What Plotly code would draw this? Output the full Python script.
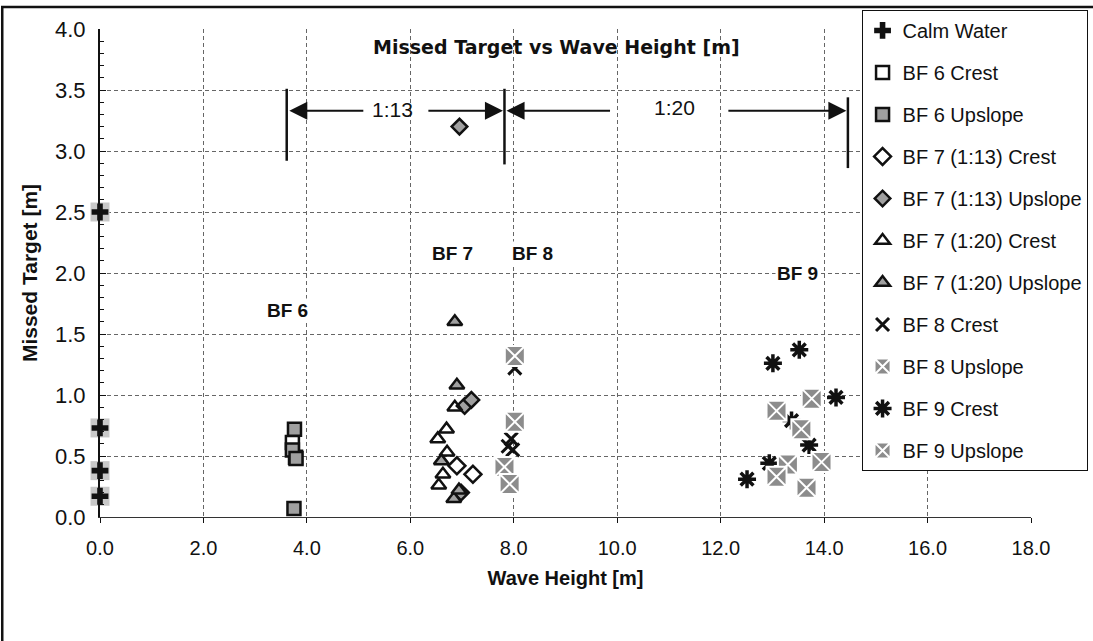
import plotly.graph_objects as go

# ---- data -------------------------------------------------------------
calm_x = [0.0, 0.0, 0.0, 0.0]
calm_y = [2.50, 0.73, 0.38, 0.17]

bf6_crest_x = [3.72, 3.78]
bf6_crest_y = [0.61, 0.49]
bf6_up_x = [3.76, 3.72, 3.79, 3.75]
bf6_up_y = [0.72, 0.55, 0.48, 0.07]

bf7_13_crest_x = [6.90, 7.21]
bf7_13_crest_y = [0.42, 0.35]
bf7_13_up_x = [6.95, 7.05, 7.18, 6.98]
bf7_13_up_y = [3.20, 0.91, 0.96, 0.20]

bf7_20_crest_x = [6.86, 6.70, 6.53, 6.71, 6.63, 6.55]
bf7_20_crest_y = [0.90, 0.72, 0.64, 0.53, 0.35, 0.26]
bf7_20_up_x = [6.86, 6.90, 6.60, 6.84, 6.94]
bf7_20_up_y = [1.60, 1.08, 0.46, 0.15, 0.22]

bf8_crest_x = [8.02, 7.95, 7.89, 7.98]
bf8_crest_y = [1.22, 0.64, 0.58, 0.55]
bf8_up_x = [8.02, 8.02, 7.82, 7.92]
bf8_up_y = [1.32, 0.78, 0.41, 0.27]

bf9_crest_x = [13.52, 13.01, 14.23, 13.37, 13.71, 12.94, 12.51]
bf9_crest_y = [1.37, 1.26, 0.98, 0.79, 0.59, 0.44, 0.31]
bf9_up_x = [13.76, 13.08, 13.56, 13.95, 13.30, 13.08, 13.66]
bf9_up_y = [0.97, 0.87, 0.72, 0.45, 0.43, 0.33, 0.24]

x_ticks = [0, 2, 4, 6, 8, 10, 12, 14, 16, 18]
x_tick_text = ["0.0", "2.0", "4.0", "6.0", "8.0", "10.0", "12.0", "14.0", "16.0", "18.0"]
y_ticks = [0, 0.5, 1.0, 1.5, 2.0, 2.5, 3.0, 3.5, 4.0]

FONT = "Arial, Liberation Sans, sans-serif"
WIDE = "DejaVu Sans, Arial, sans-serif"
GREY = "#a0a0a0"
HATCH = "#8c8c8c"
BLACK = "#111111"

fig = go.Figure()

# grey backing patch under the calm-water crosses
fig.add_trace(go.Scatter(
    x=calm_x, y=calm_y, mode="markers", showlegend=False, hoverinfo="skip",
    cliponaxis=False,
    marker=dict(symbol="square", size=19, color="#c8c8c8", line=dict(width=0)),
))


def add(name, x, y, symbol, size, color, line_color, line_width):
    fig.add_trace(go.Scatter(
        x=x, y=y, mode="markers", name=name, legendgroup=name, cliponaxis=False,
        marker=dict(symbol=symbol, size=size, color=color,
                    line=dict(color=line_color, width=line_width)),
    ))


add("Calm Water", calm_x, calm_y, "cross", 14, BLACK, BLACK, 0)
add("BF 6 Crest", bf6_crest_x, bf6_crest_y, "square-open", 13, BLACK, BLACK, 2.5)
add("BF 6 Upslope", bf6_up_x, bf6_up_y, "square", 13, GREY, BLACK, 2.5)
add("BF 7 (1:13) Crest", bf7_13_crest_x, bf7_13_crest_y, "diamond-open", 13, BLACK, BLACK, 2.5)
add("BF 7 (1:13) Upslope", bf7_13_up_x, bf7_13_up_y, "diamond", 12, GREY, BLACK, 2.5)
add("BF 7 (1:20) Crest", bf7_20_crest_x, bf7_20_crest_y, "triangle-up-open", 13, BLACK, BLACK, 2.5)
add("BF 7 (1:20) Upslope", bf7_20_up_x, bf7_20_up_y, "triangle-up", 13, GREY, BLACK, 2.5)
add("BF 8 Crest", bf8_crest_x, bf8_crest_y, "x-thin", 13, BLACK, BLACK, 3)
add("BF 8 Upslope", bf8_up_x, bf8_up_y, "square-x", 20, HATCH, "white", 2)
add("BF 9 Crest", bf9_crest_x, bf9_crest_y, "asterisk", 15, BLACK, BLACK, 3.5)
add("BF 9 Upslope", bf9_up_x, bf9_up_y, "square-x", 20, HATCH, "white", 2)

# ---- ratio brackets (1:13 / 1:20) ------------------------------------
shapes = []
for bx, y0, y1 in [(3.61, 2.92, 3.51), (7.82, 2.89, 3.51), (14.46, 2.86, 3.44)]:
    shapes.append(dict(type="line", xref="x", yref="y", x0=bx, x1=bx, y0=y0, y1=y1,
                       line=dict(color=BLACK, width=2.5)))

# outer frame of the figure
shapes.append(dict(type="rect", xref="paper", yref="paper",
                   x0=-0.105, x1=1.4, y0=-0.4, y1=1.045,
                   line=dict(color=BLACK, width=2.5)))

annotations = []
arrow_y = 3.33
for tail, head in [(5.12, 3.66), (6.32, 7.79), (9.89, 7.86), (12.12, 14.43)]:
    annotations.append(dict(
        x=head, y=arrow_y, ax=tail, ay=arrow_y, xref="x", yref="y",
        axref="x", ayref="y", text="", showarrow=True,
        arrowhead=2, arrowsize=1.8, arrowwidth=2, arrowcolor=BLACK,
    ))
annotations.append(dict(x=5.65, y=3.34, xref="x", yref="y", text="1:13",
                        showarrow=False, font=dict(family=FONT, size=21, color=BLACK)))
annotations.append(dict(x=11.11, y=3.36, xref="x", yref="y", text="1:20",
                        showarrow=False, font=dict(family=FONT, size=21, color=BLACK)))

# Beaufort group labels
for txt, lx, ly in [("BF 6", 3.63, 1.69), ("BF 7", 6.82, 2.16),
                    ("BF 8", 8.37, 2.16), ("BF 9", 13.49, 2.00)]:
    annotations.append(dict(x=lx, y=ly, xref="x", yref="y", text="<b>%s</b>" % txt,
                            showarrow=False, bgcolor="white",
                            font=dict(family=FONT, size=19, color=BLACK)))

# chart title inside the plot area
annotations.append(dict(x=0.49, y=3.85, xref="paper", yref="y",
                        text="<b>Missed Target vs Wave Height [m]</b>", showarrow=False,
                        font=dict(family=WIDE, size=19, color=BLACK)))

fig.update_layout(
    width=1093, height=641,
    margin=dict(l=100, r=62, t=29, b=124, autoexpand=False),
    paper_bgcolor="white", plot_bgcolor="white",
    font=dict(family=FONT, size=16, color=BLACK),
    shapes=shapes, annotations=annotations,
    legend=dict(
        x=0.818, y=1.039, xanchor="left", yanchor="top",
        bgcolor="white", bordercolor=BLACK, borderwidth=1,
        font=dict(family=FONT, size=20, color=BLACK),
        traceorder="grouped", tracegroupgap=13, maxheight=600,
    ),
)

fig.update_xaxes(
    range=[0, 18], tickvals=x_ticks, ticktext=x_tick_text,
    showgrid=True, gridcolor="#666666", gridwidth=1, griddash="4px,3px",
    showline=True, linecolor="#333333", linewidth=1,
    ticks="outside", ticklen=5, tickcolor=BLACK, zeroline=False,
    ticklabelstandoff=8,
    title=dict(text="<b>Wave Height [m]</b>", font=dict(family=FONT, size=20), standoff=12),
    tickfont=dict(family=FONT, size=20),
)
fig.update_yaxes(
    range=[0, 4.0], tickvals=y_ticks, tickformat=".1f",
    showgrid=True, gridcolor="#666666", gridwidth=1, griddash="4px,3px",
    showline=True, linecolor=BLACK, linewidth=2,
    ticks="inside", ticklen=6, tickcolor=BLACK, zeroline=False,
    ticklabelstandoff=8,
    minor=dict(dtick=0.1, ticks="inside", ticklen=4, tickcolor=BLACK, showgrid=False),
    title=dict(text="<b>Missed Target [m]</b>", font=dict(family=FONT, size=21), standoff=12),
    tickfont=dict(family=FONT, size=22),
)

fig.write_html("out.html")
